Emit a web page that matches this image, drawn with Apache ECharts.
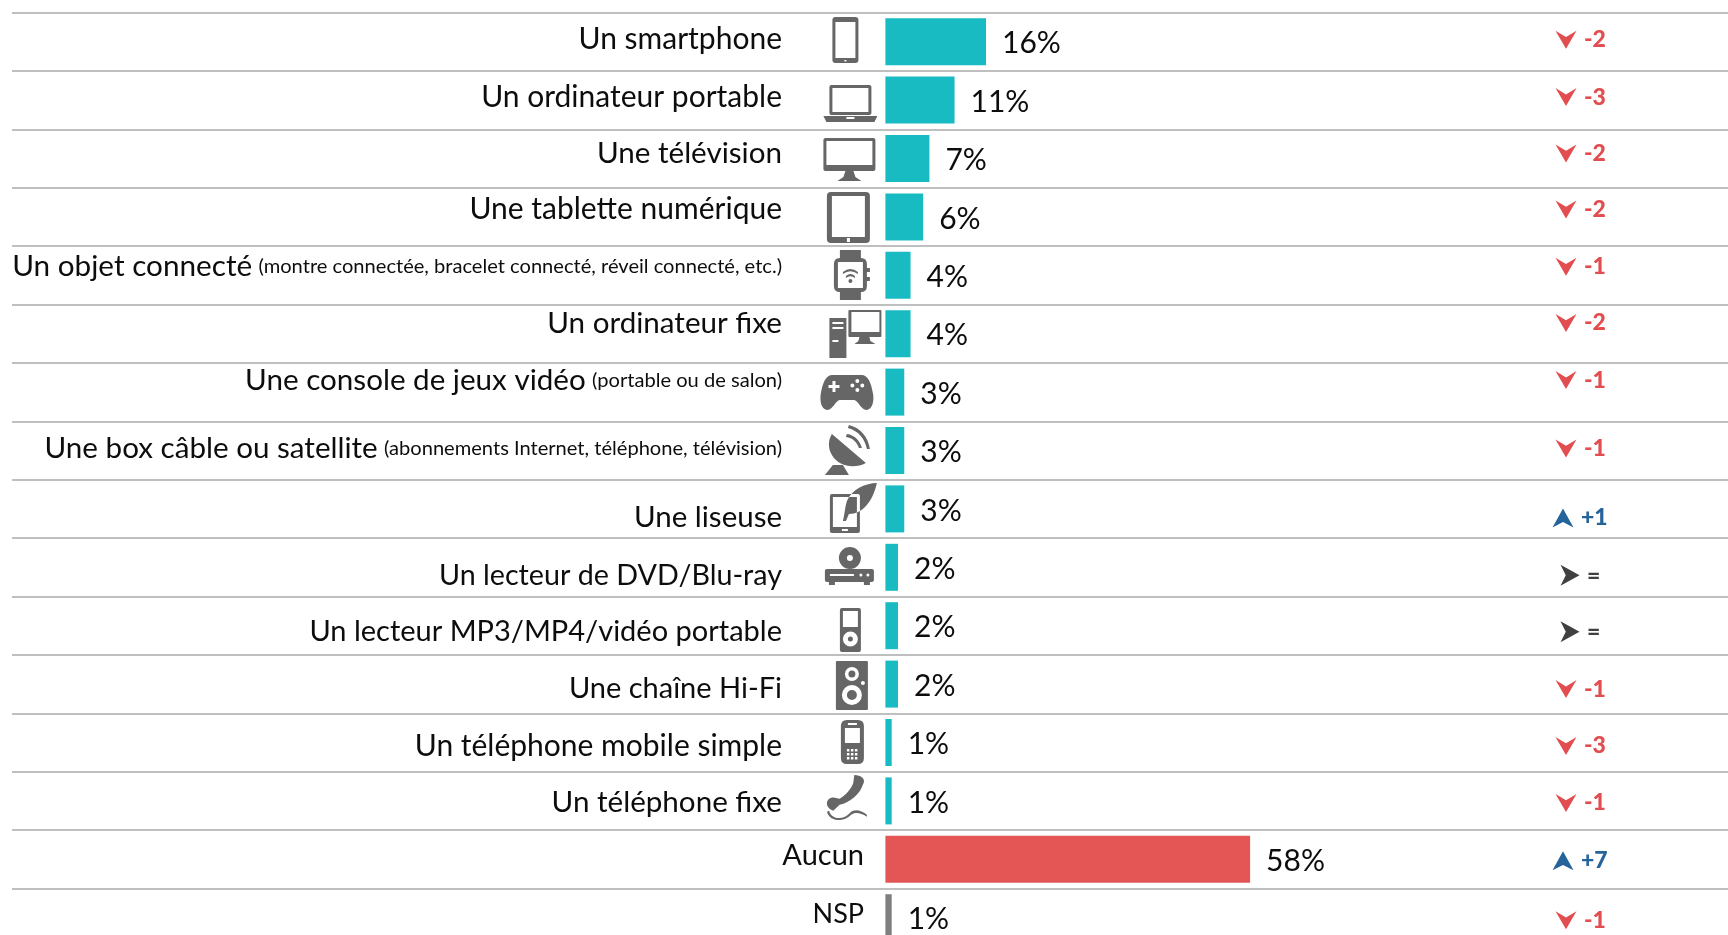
<!DOCTYPE html>
<html>
<head>
<meta charset="utf-8">
<script src="https://cdn.jsdelivr.net/npm/echarts@6/dist/echarts.min.js"></script>
<style>
  html, body { margin: 0; background: #fff; overflow: hidden; height: 935px; }
  /* taller than the window: the last row runs off the bottom of the picture */
  #chart { width: 1728px; height: 960px; }
</style>
</head>
<body>
<div id="chart"></div>
<script>
const categories = [
  'Un smartphone', 'Un ordinateur portable', 'Une télévision', 'Une tablette numérique',
  'Un objet connecté', 'Un ordinateur fixe', 'Une console de jeux vidéo', 'Une box câble ou satellite',
  'Une liseuse', 'Un lecteur de DVD/Blu-ray', 'Un lecteur MP3/MP4/vidéo portable', 'Une chaîne Hi-Fi',
  'Un téléphone mobile simple', 'Un téléphone fixe', 'Aucun', 'NSP'
];
const notes = [
  '', '', '', '',
  '(montre connectée, bracelet connecté, réveil connecté, etc.)', '',
  '(portable ou de salon)', '(abonnements Internet, téléphone, télévision)',
  '', '', '', '', '', '', '', ''
];
const values = [16, 11, 7, 6, 4, 4, 3, 3, 3, 2, 2, 2, 1, 1, 58, 1];
const changes = ['-2', '-3', '-2', '-2', '-1', '-2', '-1', '-1', '+1', '=', '=', '-1', '-3', '-1', '+7', '-1'];

// the source is a pasted slide: texts sit off the row centre by a drifting amount
const labelShift = [-2, -3, -5, -7.5, -8.6, -10.7, -12, -2, 9, 8, 6, 5, 3.5, 2, -4, -3];
const changeShift = [-2, -3, -5, -7.5, -8.6, -10.7, -12, -2, 9, 8, 6, 5, 3.5, 2, 1.5, 2.5];
// Lato runs a bit wider than the slide's font on some rows
const labelSize = [30, 30, 29.6, 30, 29.7, 29.6, 29.6, 29.6, 29.5, 28.7, 29, 29, 30, 29.6, 29, 27];

const TEAL = '#19bbc3';
const RED = '#e45656';
const GREY = '#7f7f7f';
const barColors = values.map((v, i) => i === 14 ? RED : i === 15 ? GREY : TEAL);

// small path helpers, clockwise = filled, counter-clockwise = hole
const box = (x, y, w, h) => `M${x},${y}L${x + w},${y}L${x + w},${y + h}L${x},${y + h}Z`;
const hole = (x, y, w, h) => `M${x},${y}L${x},${y + h}L${x + w},${y + h}L${x + w},${y}Z`;
const rbox = (x, y, w, h, r) =>
  `M${x + r},${y}L${x + w - r},${y}Q${x + w},${y} ${x + w},${y + r}L${x + w},${y + h - r}Q${x + w},${y + h} ${x + w - r},${y + h}` +
  `L${x + r},${y + h}Q${x},${y + h} ${x},${y + h - r}L${x},${y + r}Q${x},${y} ${x + r},${y}Z`;
const disc = (x, y, r) => `M${x - r},${y}A${r},${r} 0 1 1 ${x + r},${y}A${r},${r} 0 1 1 ${x - r},${y}Z`;
const discHole = (x, y, r) => `M${x - r},${y}A${r},${r} 0 1 0 ${x + r},${y}A${r},${r} 0 1 0 ${x - r},${y}Z`;

const keypad = [0, 1, 2].map(r => [0, 1, 2].map(c => hole(6 + c * 4, 29 + r * 4, 2.5, 2.5)).join('')).join('');

const iconPaths = [
  rbox(0, 0, 26, 46, 3) + hole(3, 5, 20, 36) + hole(12, 43, 2, 1.5),
  rbox(6, 0, 42, 30, 2) + hole(9, 3, 36, 24) + 'M0,31L54,31L51,37L3,37Z' + hole(23, 32, 8, 2),
  rbox(0, 0, 52, 33, 2) + hole(3, 3, 46, 24) + 'M22,33L30,33L32,39L38,43L14,43L20,39Z',
  rbox(0, 0, 43, 51, 4) + hole(5, 4, 33, 41) + hole(20, 46, 3, 4),
  rbox(0, 8, 33, 34, 6) + hole(4, 12, 25, 26) + box(6, 0, 21, 8) + box(6, 42, 21, 8) + box(33, 18, 3, 4) + box(33, 27, 3, 4) +
    'M9,22Q16.5,16 24,22L24,24Q16.5,18.5 9,24Z' + 'M12,26Q16.5,22 21,26L21,28Q16.5,24.5 12,28Z' + disc(16.5, 31, 2),
  box(0, 8, 17, 40) + hole(3, 12, 11, 2) + hole(3, 17, 11, 2) + hole(3, 30, 6, 2) +
    rbox(19, 0, 33, 27, 1) + hole(22, 2, 28, 20) + 'M30,27L40,27L41,31L46,34L25,34L29,31Z',
  'M12,0L41,0C48,0 51,8 53,20C54,30 50,35 46,35C41,35 38,26 34,25L19,25C15,26 12,35 7,35C3,35 -1,30 0,20C2,8 5,0 12,0Z' +
    'M12,6L12,10L8,10L8,13L12,13L12,17L15,17L15,13L19,13L19,10L15,10L15,6Z' +
    discHole(37, 6, 2) + discHole(37, 15, 2) + discHole(32, 10.5, 2) + discHole(42, 10.5, 2),
  'M7,9L41,38C30,44 14,42 7,30C3,24 3,15 7,9Z' + 'M8,40L18,40L24,50L0,50Z' +
    'M24,0C36,3 43,12 45,24L42,24C40,14 34,6 23,3Z' + 'M22,9C30,10 35,16 37,23L34,23C32,17 28,13 21,12Z',
  rbox(0, 11, 30, 39, 2) + hole(3, 14, 24, 30) + hole(12, 46, 6, 2) +
    'M47,0C36,0 22,6 17,18C15,24 15,30 13,38L16,38L19,31C33,31 43,18 47,0Z',
  disc(25, 11, 11) + discHole(25, 11, 3) + rbox(0, 22, 49, 13, 2) + box(4, 35, 6, 3) + box(39, 35, 6, 3) +
    hole(5, 27, 24, 2) + discHole(36, 28, 1.5) + discHole(43, 28, 1.5),
  rbox(0, 0, 21, 44, 2) + hole(3, 3, 15, 16) + discHole(10.5, 31, 7.5) + disc(10.5, 31, 2.5),
  rbox(0, 0, 32, 49, 1) + discHole(16, 13, 7) + disc(16, 13, 3.5) + discHole(16, 34, 10) + disc(16, 34, 5) + discHole(27, 22, 2),
  rbox(0, 0, 23, 44, 6) + hole(4, 8, 15, 15) + hole(7, 3, 9, 2) + keypad,
  'M28,0C34,0 40,4 36,10C34,18 24,28 14,30L8,36C2,34 0,28 4,24C8,21 12,24 14,24C20,20 25,14 27,8Z' +
    'M4,36C6,45 18,46 24,38C28,34 34,35 40,40L40,42C34,38 29,37 25,40C18,48 4,47 2,37Z',
  null, null
];
// icon box as [left, top, width, height] against the bar origin and row centre
const iconBoxes = [
  [-53, -24.7, 26, 46], [-62, -15, 54, 37], [-62, -20.5, 52, 43], [-58.5, -25, 43, 51],
  [-51.5, -25.3, 36, 50], [-56, -23.7, 52, 48], [-65, -17, 53, 35], [-60.5, -25.5, 45, 50],
  [-55.5, -26, 47, 50], [-60.5, -20.3, 49, 38], [-45.5, -17.7, 21, 44], [-49.5, -23.1, 32, 49],
  [-44.5, -22.5, 23, 44], [-58.5, -25.9, 40, 45], null, null
];

const arrowPaths = {
  down: 'M0,0L10,6L20,0L10,17Z',
  up: 'M10,0L20,18L10,13L0,18Z',
  flat: 'M0,0L18,10L0,20L5,10Z'
};

const FONT = 'Lato, Carlito, "Open Sans", sans-serif';
const chart = echarts.init(document.getElementById('chart'), null, { renderer: 'canvas' });

function renderLabel(params, api) {
  const i = api.value(1);
  const p = api.coord([0, i]);
  const note = notes[i];
  return {
    type: 'text',
    style: {
      text: note ? `{m|${categories[i]}} {s|${note}}` : `{m|${categories[i]}}`,
      rich: {
        m: { fontFamily: FONT, fontSize: labelSize[i], fill: '#0d0d0d', padding: [0, note ? 3 : 0, 0, 0] },
        s: { fontFamily: FONT, fontSize: 20.1, fill: '#0d0d0d' }
      },
      x: iconBoxes[i] ? 782 : 864,
      y: p[1] + labelShift[i],
      align: 'right',
      verticalAlign: 'middle'
    }
  };
}

function renderIcon(params, api) {
  const i = api.value(1);
  if (!iconPaths[i]) return null;
  const p = api.coord([0, i]);
  const b = iconBoxes[i];
  return {
    type: 'path',
    shape: {
      pathData: iconPaths[i],
      layout: 'cover',
      x: p[0] + b[0],
      y: p[1] + b[1],
      width: b[2],
      height: b[3]
    },
    style: { fill: '#666666' }
  };
}

function renderChange(params, api) {
  const i = api.value(1);
  const p = api.coord([0, i]);
  const c = changes[i];
  const y = p[1] + changeShift[i];
  const kind = c === '=' ? 'flat' : c[0] === '+' ? 'up' : 'down';
  const color = kind === 'flat' ? '#404040' : kind === 'up' ? '#25639b' : '#e24d4f';
  const size = { down: [21, 18, 1555.5, 1584], up: [21, 19, 1552.5, 1581], flat: [19, 21, 1560.5, 1587] }[kind];
  return {
    type: 'group',
    children: [
      {
        type: 'path',
        shape: { pathData: arrowPaths[kind], layout: 'cover', x: size[2], y: y - size[1] / 2, width: size[0], height: size[1] },
        style: { fill: color }
      },
      {
        type: 'text',
        style: {
          text: c,
          x: size[3],
          y,
          align: 'left',
          verticalAlign: 'middle',
          fontFamily: FONT,
          fontWeight: 900,
          fontSize: 23,
          fill: color
        }
      }
    ]
  };
}

const rowData = categories.map((c, i) => [0, i]);

chart.setOption({
  animation: false,
  grid: { left: 12, top: 12.5, width: 1716, height: 934.4 },
  xAxis: {
    type: 'value',
    min: -138.9,
    max: 134,
    show: false
  },
  yAxis: {
    type: 'category',
    inverse: true,
    data: categories,
    axisLine: { show: false },
    axisTick: { show: false },
    axisLabel: { show: false },
    splitLine: { show: true, interval: 0, lineStyle: { color: '#bfbfbf', width: 2 } }
  },
  series: [
    {
      type: 'bar',
      barWidth: 47,
      data: values.map((v, i) => ({ value: v, itemStyle: { color: barColors[i] } })),
      label: {
        show: true,
        position: 'right',
        distance: 16,
        offset: [0, 2],
        formatter: '{c}%',
        fontFamily: FONT,
        fontSize: 30,
        color: '#0d0d0d'
      }
    },
    { type: 'custom', data: rowData, clip: false, silent: true, renderItem: renderLabel },
    { type: 'custom', data: rowData, clip: false, silent: true, renderItem: renderIcon },
    { type: 'custom', data: rowData, clip: false, silent: true, renderItem: renderChange }
  ]
});
</script>
</body>
</html>
